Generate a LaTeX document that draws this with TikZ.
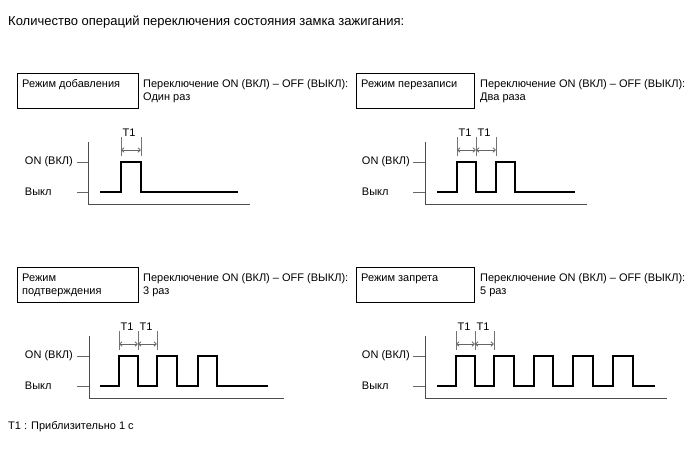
\documentclass[tikz,border=0pt]{standalone}
\usepackage{fontspec}
\setmainfont{Liberation Sans}
\usetikzlibrary{arrows.meta}
\begin{document}
\begin{tikzpicture}[x=1pt,y=-1pt,
  txt/.style={font=\fontsize{11}{13}\selectfont, inner sep=0pt, anchor=base west},
  lbl/.style={font=\fontsize{11}{13}\selectfont, inner sep=0pt},
  modebox/.style={draw=black, line width=1.1pt, fill=white, inner sep=0pt, anchor=north west},
  axisline/.style={draw=black!70, line width=0.9pt},
  tickline/.style={draw=black!60, line width=0.9pt},
  sig/.style={draw=black, line width=1.8pt},
  bracket/.style={draw=black!55, line width=0.9pt},
  dim/.style={draw=black!60, line width=0.8pt, {Straight Barb[length=2.5pt,width=4.5pt]}-{Straight Barb[length=2.5pt,width=4.5pt]}},
]
\useasboundingbox (0,0) rectangle (689,463);

% title and footnote
\node[txt, font=\fontsize{13}{15}\selectfont] (title) at (8,25) {Количество операций переключения состояния замка зажигания:};
\node[txt] (foot) at (8,429) {T1 : Приблизительно 1 с};

% ---------- Panel 1 (top-left) ----------
\node[modebox, minimum width=121pt, minimum height=35pt] (box1) at (17,73) {};
\node[txt] (m1) at (22,87) {Режим добавления};
\node[txt] (s1a) at (143,87) {Переключение ON (ВКЛ) – OFF (ВЫКЛ):};
\node[txt] (s1b) at (143,100) {Один раз};
\coordinate (a1t) at (88,142); \coordinate (a1o) at (88,204); \coordinate (a1e) at (250,204);
\draw[axisline] (a1t) -- (a1o) -- (a1e);
\coordinate (k1on) at (77,162); \coordinate (k1off) at (77,192);
\draw[tickline] (k1on) -- (88,162);
\draw[tickline] (k1off) -- (88,192);
\node[lbl, anchor=east] (on1) at (73,162) {ON (ВКЛ)};
\node[lbl, anchor=west] (off1) at ([yshift=-30pt]on1.west) {Выкл};
\draw[sig] (100,192) -- (121,192) -- (121,162) -- (141,162) -- (141,192) -- (238,192);
\coordinate (p1a) at (121,137); \coordinate (p1b) at (141,137);
\draw[bracket] (p1a) -- ++(0,19);
\draw[bracket] (p1b) -- ++(0,19);
\draw[dim] (121,150) -- (141,150);
\node[txt] (t1a) at (122.5,136) {T1};

% ---------- Panel 2 (top-right) ----------
\node[modebox, minimum width=118pt, minimum height=35pt] (box2) at (356,73) {};
\node[txt] (m2) at (361,87) {Режим перезаписи};
\node[txt] (s2a) at (480,87) {Переключение ON (ВКЛ) – OFF (ВЫКЛ):};
\node[txt] (s2b) at (480,100) {Два раза};
\coordinate (a2t) at (425,142); \coordinate (a2o) at (425,204); \coordinate (a2e) at (587,204);
\draw[axisline] (a2t) -- (a2o) -- (a2e);
\draw[tickline] (413,162) -- (425,162);
\draw[tickline] (413,192) -- (425,192);
\node[lbl, anchor=east] (on2) at (410,162) {ON (ВКЛ)};
\node[lbl, anchor=west] (off2) at ([yshift=-30pt]on2.west) {Выкл};
\draw[sig] (437,192) -- (457,192) -- (457,162) -- (476,162) -- (476,192) -- (496,192) -- (496,162) -- (515,162) -- (515,192) -- (575,192);
\foreach \x in {457,476,496} \draw[bracket] (\x,137) -- (\x,156);
\draw[dim] (457,150) -- (476,150);
\draw[dim] (476,150) -- (496,150);
\node[txt] (t2a) at (458.5,136) {T1};
\node[txt] (t2b) at (477.5,136) {T1};

% ---------- Panel 3 (bottom-left) ----------
\node[modebox, minimum width=121pt, minimum height=35pt] (box3) at (17,267) {};
\node[txt] (m3a) at (22,281) {Режим};
\node[txt] (m3b) at (22,294) {подтверждения};
\node[txt] (s3a) at (143,281) {Переключение ON (ВКЛ) – OFF (ВЫКЛ):};
\node[txt] (s3b) at (143,294) {3 раз};
\draw[axisline] (89,336) -- (89,398) -- (284,398);
\draw[tickline] (77,356) -- (89,356);
\draw[tickline] (77,386) -- (89,386);
\node[lbl, anchor=east] (on3) at (73,356) {ON (ВКЛ)};
\node[lbl, anchor=west] (off3) at ([yshift=-30pt]on3.west) {Выкл};
\draw[sig] (100,386) -- (119,386) -- (119,356) -- (138,356) -- (138,386) -- (157,386) -- (157,356) -- (177,356) -- (177,386) -- (198,386) -- (198,356) -- (217,356) -- (217,386) -- (268,386);
\foreach \x in {119,138,157} \draw[bracket] (\x,331) -- (\x,350);
\draw[dim] (119,344) -- (138,344);
\draw[dim] (138,344) -- (157,344);
\node[txt] (t3a) at (120.5,330) {T1};
\node[txt] (t3b) at (139.5,330) {T1};

% ---------- Panel 4 (bottom-right) ----------
\node[modebox, minimum width=118pt, minimum height=35pt] (box4) at (356,267) {};
\node[txt] (m4) at (361,281) {Режим запрета};
\node[txt] (s4a) at (480,281) {Переключение ON (ВКЛ) – OFF (ВЫКЛ):};
\node[txt] (s4b) at (480,294) {5 раз};
\draw[axisline] (425,336) -- (425,398) -- (667,398);
\draw[tickline] (413,356) -- (425,356);
\draw[tickline] (413,386) -- (425,386);
\node[lbl, anchor=east] (on4) at (410,356) {ON (ВКЛ)};
\node[lbl, anchor=west] (off4) at ([yshift=-30pt]on4.west) {Выкл};
\draw[sig] (437,386) -- (456,386) -- (456,356) -- (475,356) -- (475,386) -- (494,386) -- (494,356) -- (514,356) -- (514,386) -- (534,386) -- (534,356) -- (553,356) -- (553,386) -- (573,386) -- (573,356) -- (593,356) -- (593,386) -- (613,386) -- (613,356) -- (633,356) -- (633,386) -- (655,386);
\foreach \x in {456,475,494} \draw[bracket] (\x,331) -- (\x,350);
\draw[dim] (456,344) -- (475,344);
\draw[dim] (475,344) -- (494,344);
\node[txt] (t4a) at (457.5,330) {T1};
\node[txt] (t4b) at (476.5,330) {T1};
\end{tikzpicture}
\end{document}
